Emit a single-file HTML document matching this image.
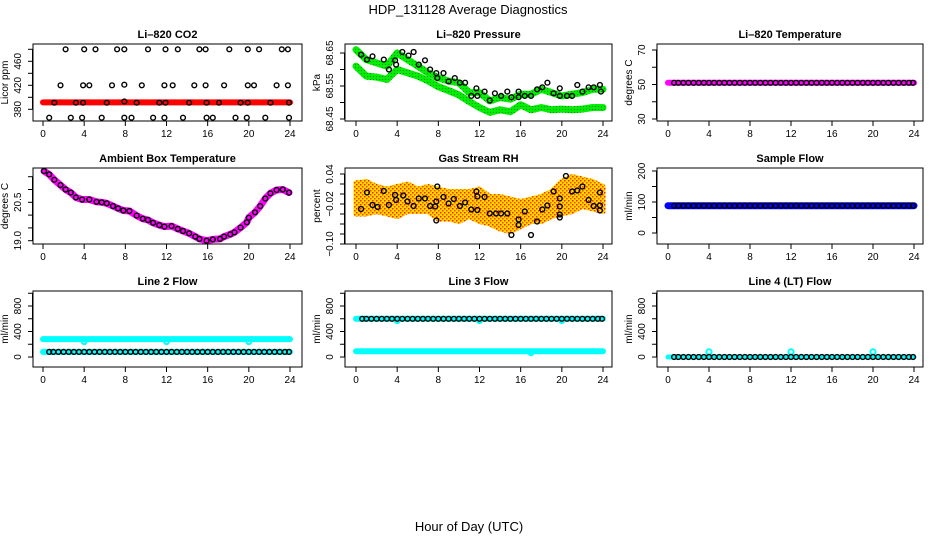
<!DOCTYPE html>
<html><head><meta charset="utf-8"><style>
body{margin:0;background:#fff;}
svg{display:block;font-family:"Liberation Sans",Arial,sans-serif;}
</style></head><body>
<svg id="chart" width="936" height="540" viewBox="0 0 936 540" xmlns="http://www.w3.org/2000/svg">
<defs>
<pattern id="rhpat" width="4" height="4" patternUnits="userSpaceOnUse"><rect width="4" height="4" fill="#ffd800"/><rect x="0" y="0" width="1.5" height="1.5" fill="#ff2000"/><rect x="2" y="2" width="1.5" height="1.5" fill="#ff4000"/></pattern>
<pattern id="grpat" width="3" height="3" patternUnits="userSpaceOnUse"><rect width="3" height="3" fill="#00ee00"/><rect x="1" y="1" width="1" height="1" fill="#0a8a0a"/></pattern>
</defs>
<text x="468" y="14" text-anchor="middle" font-size="13">HDP_131128  Average Diagnostics</text>
<text x="469" y="531" text-anchor="middle" font-size="13">Hour of Day (UTC)</text>
</svg>
<script>
// ---- data ----
const xTicks=[0,4,8,12,16,20,24];
const co2Hours=[2.2,4.0,5.1,7.2,7.9,10.2,11.9,13.1,15.2,15.8,18.1,19.9,21.0,23.2,23.8, 1.7,3.9,4.5,6.7,7.9,9.6,11.8,12.6,14.7,15.8,17.6,19.9,20.5,22.7,23.8, 1.1,3.2,3.9,6.2,7.9,9.1,11.3,11.9,14.2,15.9,17.1,19.2,19.9,22.1,23.9, 0.6,2.7,3.8,5.7,7.9,8.6,10.7,11.8,13.6,15.9,16.5,18.7,19.8,21.6,23.9];
const co2Values=[480,480,480,480,480,480,480,480,480,480,480,480,480,480,480, 420,420,420,420,421,420,420,420,420,420,420,420,420,420,420, 391,391,391,391,393,391,391,391,391,391,391,391,391,391,391, 366,366,366,366,366,366,366,366,366,366,366,366,366,366,366];
const co2BandHours=[0,24];
const co2BandValues=[391.5,391.5];
const presHours=[0.5,1.07,1.6,2.7,3.2,3.8,3.9,4.5,5.1,5.6,6.1,6.7,7.2,7.8,7.9,8.5,9.0,9.6,10.1,10.6,11.2,11.7,11.8,12.5,13.0,13.5,14.1,14.7,15.1,15.8,15.8,16.4,17.0,17.6,18.1,18.6,19.2,19.8,19.8,20.5,21.0,21.5,22.0,22.6,23.1,23.7,23.8];
const presValues=[68.645,68.63,68.64,68.63,68.60,68.628,68.615,68.653,68.642,68.653,68.615,68.628,68.60,68.589,68.574,68.589,68.564,68.574,68.56,68.56,68.52,68.543,68.52,68.533,68.506,68.528,68.52,68.533,68.516,68.533,68.516,68.52,68.52,68.54,68.546,68.56,68.528,68.52,68.543,68.52,68.52,68.553,68.533,68.546,68.546,68.553,68.533];
const greenHours=[0,1,2,3,4,5,6,7,8,9,10,11,12,13,14,15,16,17,18,19,20,21,22,23,24];
const greenUpper=[68.66,68.63,68.62,68.61,68.65,68.63,68.61,68.59,68.575,68.565,68.56,68.53,68.53,68.505,68.515,68.51,68.525,68.525,68.54,68.53,68.52,68.525,68.53,68.54,68.54];
const greenLower=[68.61,68.58,68.577,68.57,68.6,68.59,68.58,68.566,68.548,68.536,68.523,68.503,68.485,68.47,68.478,68.472,68.493,68.478,68.485,68.478,68.48,68.478,68.48,68.485,68.485];
const ambHours=[0.1,0.6,1.1,1.7,2.2,2.7,3.2,3.8,4.5,5.2,5.7,6.2,6.8,7.3,7.8,8.4,9.1,9.7,10.2,10.7,11.3,11.8,12.5,13.1,13.6,14.2,14.8,15.2,15.9,16.5,17.2,17.6,18.2,18.6,19.2,19.8,20.0,20.6,21.1,21.6,22.1,22.7,23.3,23.9];
const ambValues=[21.72,21.59,21.38,21.17,21.0,20.88,20.69,20.61,20.61,20.52,20.5,20.46,20.35,20.26,20.18,20.16,19.98,19.86,19.81,19.7,19.61,19.55,19.57,19.46,19.38,19.29,19.16,19.07,19.0,19.05,19.07,19.16,19.25,19.33,19.51,19.72,19.9,20.11,20.35,20.65,20.85,20.98,21.0,20.88];
const rhHours=[0.5,1.07,1.6,2.1,2.7,3.2,3.8,3.9,4.6,5.0,5.6,6.1,6.7,7.2,7.7,7.8,7.9,7.8,8.5,9.0,9.5,10.1,10.6,11.2,11.7,11.8,11.8,12.5,13.0,13.6,14.1,14.7,15.1,15.8,15.8,16.4,17.0,17.6,18.1,18.6,19.2,19.8,19.8,19.8,19.8,20.4,21.0,21.5,22.0,22.6,23.1,23.7,23.7,23.7];
const rhValues=[-0.030,0.003,-0.022,-0.026,0.006,-0.022,-0.002,-0.012,-0.003,-0.015,-0.024,-0.009,-0.009,-0.024,-0.025,-0.015,0.015,-0.053,-0.006,-0.019,-0.010,-0.024,-0.017,-0.031,0.005,-0.005,-0.032,-0.006,-0.039,-0.039,-0.039,-0.039,-0.082,-0.051,-0.062,-0.035,-0.082,-0.055,-0.031,-0.023,0.005,-0.009,-0.025,-0.041,-0.047,0.036,0.005,0.007,0.015,-0.012,-0.024,0.003,-0.023,-0.033];
const rhCloudHours=[0,1,2,3,4,5,6,7,8,9,10,11,12,13,14,15,16,17,18,19,20,21,22,23,24];
const rhCloudUpper=[0.022,0.025,0.015,0.01,0.015,0.02,0.01,0.015,0.01,0.005,0.005,0.005,0.01,-0.005,-0.005,-0.01,-0.015,-0.01,-0.005,0.005,0.025,0.035,0.03,0.025,0.015];
const rhCloudLower=[-0.04,-0.04,-0.035,-0.04,-0.045,-0.035,-0.035,-0.035,-0.05,-0.05,-0.055,-0.045,-0.055,-0.06,-0.07,-0.075,-0.065,-0.055,-0.055,-0.045,-0.04,-0.035,-0.025,-0.03,-0.035];
const flowHours=[0.6,1,1.5,2,2.5,3,3.5,4,4.5,5,5.5,6,6.5,7,7.5,8,8.5,9,9.5,10,10.5,11,11.5,12,12.5,13,13.5,14,14.5,15,15.5,16,16.5,17,17.5,18,18.5,19,19.5,20,20.5,21,21.5,22,22.5,23,23.5,23.9];
const tempValues=[51,51,51,51,51,51,51,51,51,51,51,51,51,51,51,51,51,51,51,51,51,51,51,51,51,51,51,51,51,51,51,51,51,51,51,51,51,51,51,51,51,51,51,51,51,51,51,51];
const sampleValues=[88,88,88,88,88,88,88,88,88,88,88,88,88,88,88,88,88,88,88,88,88,88,88,88,88,88,88,88,88,88,88,88,88,88,88,88,88,88,88,88,88,88,88,88,88,88,88,88];
const line2Values=[80,80,80,80,80,80,80,80,80,80,80,80,80,80,80,80,80,80,80,80,80,80,80,80,80,80,80,80,80,80,80,80,80,80,80,80,80,80,80,80,80,80,80,80,80,80,80,80];
const line3Values=[600,600,600,600,600,600,600,600,600,600,600,600,600,600,600,600,600,600,600,600,600,600,600,600,600,600,600,600,600,600,600,600,600,600,600,600,600,600,600,600,600,600,600,600,600,600,600,600];
const line4Values=[0,0,0,0,0,0,0,0,0,0,0,0,0,0,0,0,0,0,0,0,0,0,0,0,0,0,0,0,0,0,0,0,0,0,0,0,0,0,0,0,0,0,0,0,0,0,0,0];
const bandHours=[0,24];
const tempBand=[51,51];
const sampleBand=[88,88];
const line2BandA=[280,280];
const line2BandB=[80,80];
const line3BandA=[600,600];
const line3BandB=[90,90];
const line4Band=[0,0];
const line2DipHours=[4,12,20];
const line2DipValues=[240,240,240];
const line3DipHours=[4,12,20,17];
const line3DipValues=[570,570,570,65];
const line4SpikeHours=[4,12,20];
const line4SpikeValues=[80,80,80];
const co2Ticks=[380,400,420,440,460,480], co2Labels=[380,420,460];
const presTicks=[68.45,68.5,68.55,68.6,68.65], presLabels=["68.45","68.55","68.65"], presLabelVals=[68.45,68.55,68.65];
const tempTicks=[30,40,50,60,70], tempLabels=[30,50,70];
const ambTicks=[19,19.5,20,20.5,21,21.5], ambLabels=["19.0","20.5"], ambLabelVals=[19,20.5];
const rhTicks=[-0.10,-0.08,-0.06,-0.04,-0.02,0,0.02,0.04], rhLabels=["\u22120.10","\u22120.02","0.04"], rhLabelVals=[-0.10,-0.02,0.04];
const sampleTicks=[0,50,100,150,200], sampleLabels=[0,100,200];
const flowTicks=[0,200,400,600,800,1000], flowLabels=[0,400,800];

// ---- layout ----
const NS="http://www.w3.org/2000/svg";
const svg=document.getElementById('chart');
const cols=[{l:33,r:302,x0:43,x24:290},{l:345,r:612,x0:356,x24:603},{l:657,r:923,x0:668,x24:914}];
const rows=[{t:44,b:121},{t:168,b:244},{t:291,b:367}];
function mk(tag,attrs,parent){const e=document.createElementNS(NS,tag);for(const k in attrs)e.setAttribute(k,attrs[k]);(parent||svg).appendChild(e);return e;}
function lin(v1,p1,v2,p2){return v=>p1+(v-v1)*(p2-p1)/(v2-v1);}

function panel(name,title,ci,ri,yv1,yp1,yv2,yp2,yTicks,yLabelVals,yLabelTxt,ylab){
  const c=cols[ci],r=rows[ri];
  const g=mk('g',{});
  
  
  const x=lin(0,c.x0,24,c.x24), y=lin(yv1,yp1,yv2,yp2);
  const t=mk('text',{x:(c.l+c.r)/2,y:r.t-6,'text-anchor':'middle','font-size':11,'font-weight':'bold'},g);
  t.textContent=title;
  
  
  const plot=mk('g',{},g);
  
  
  const box=mk('rect',{x:c.l,y:r.t,width:c.r-c.l,height:r.b-r.t,fill:'none',stroke:'#000','stroke-width':1},g);
  
  
  const xa=mk('g',{},g);
  
  
  xTicks.forEach(h=>{
    mk('line',{x1:x(h),x2:x(h),y1:r.b,y2:r.b+5,stroke:'#000'},xa);
    const tl=mk('text',{x:x(h),y:r.b+16,'text-anchor':'middle','font-size':10},xa);
    tl.textContent=h;
    
    
  });
  const ya=mk('g',{},g);
  
  
  yTicks.forEach(v=>{mk('line',{x1:c.l-5,x2:c.l,y1:y(v),y2:y(v),stroke:'#000'},ya);});
  mk('line',{x1:c.l-0.5,x2:c.l-0.5,y1:y(yTicks[0]),y2:y(yTicks[yTicks.length-1]),stroke:'#000'},ya);
  yLabelVals.forEach((v,i)=>{
    const lx=c.l-12, ly=y(v);
    const tl=mk('text',{x:lx,y:ly,'text-anchor':'middle','font-size':10,transform:`rotate(-90 ${lx} ${ly})`,dy:'0'},ya);
    tl.textContent=yLabelTxt[i];
    
    
  });
  const lx=c.l-25, ly=(r.t+r.b)/2;
  const yt=mk('text',{x:lx,y:ly,'text-anchor':'middle','font-size':10,transform:`rotate(-90 ${lx} ${ly})`},g);
  yt.textContent=ylab;
  
  
  return {x,y,plot};
}
function band(p,hs,vs,color,w,nm){
  const pts=hs.map((h,i)=>p.x(h).toFixed(1)+','+p.y(vs[i]).toFixed(1)).join(' ');
  const e=mk('polyline',{points:pts,fill:'none',stroke:color,'stroke-width':w,'stroke-linejoin':'round','stroke-linecap':'round'},p.plot);
  
  
}
function pts(p,hs,vs,color,nm,rad,sw){
  hs.forEach((h,i)=>{
    const e=mk('circle',{cx:p.x(h).toFixed(1),cy:p.y(vs[i]).toFixed(1),r:rad||2.4,fill:'none',stroke:color,'stroke-width':sw||1.4},p.plot);
    
    
  });
}

// CO2
let p=panel('co2','Li\u2013820 CO2',0,0,380,109.3,460,61.3,co2Ticks,co2Labels,co2Labels,'Licor ppm');
band(p,co2BandHours,co2BandValues,'#ff0000',6,'co2-band');
pts(p,co2Hours,co2Values,'#000','co2-point');
// Pressure
p=panel('pressure','Li\u2013820 Pressure',1,0,68.45,119,68.65,53,presTicks,presLabelVals,presLabels,'kPa');
band(p,greenHours,greenUpper,'url(#grpat)',7,'pressure-band-upper');
band(p,greenHours,greenLower,'url(#grpat)',7,'pressure-band-lower');
pts(p,presHours,presValues,'#000','pressure-point');
// Temperature
p=panel('li820-temp','Li\u2013820 Temperature',2,0,30,119,70,50,tempTicks,tempLabels,tempLabels,'degrees C');
band(p,bandHours,tempBand,'#ff00ff',6,'temp-band');
pts(p,flowHours,tempValues,'#000','temp-point');
// Ambient
p=panel('ambient','Ambient Box Temperature',0,1,19,240.7,20.5,202.3,ambTicks,ambLabelVals,ambLabels,'degrees C');
band(p,ambHours,ambValues,'#ff00ff',7,'ambient-band');
pts(p,ambHours,ambValues,'#000','ambient-point');
// RH
p=panel('rh','Gas Stream RH',1,1,0.04,174,-0.10,244,rhTicks,rhLabelVals,rhLabels,'percent');
{
  const up=rhCloudHours.map((h,i)=>p.x(h).toFixed(1)+','+p.y(rhCloudUpper[i]).toFixed(1));
  const lo=rhCloudHours.map((h,i)=>p.x(h).toFixed(1)+','+p.y(rhCloudLower[i]).toFixed(1)).reverse();
  const e=mk('polygon',{points:up.concat(lo).join(' '),fill:'url(#rhpat)',stroke:'url(#rhpat)','stroke-width':5,'stroke-linejoin':'round'},p.plot);
  
  
}
pts(p,rhHours,rhValues,'#000','rh-point');
// Sample flow
p=panel('sample-flow','Sample Flow',2,1,0,233,200,171,sampleTicks,sampleLabels,sampleLabels,'ml/min');
band(p,bandHours,sampleBand,'#0000ff',7,'sample-band');
pts(p,flowHours,sampleValues,'#000','sample-point');
// Line 2
p=panel('line2','Line 2 Flow',0,2,0,357,800,306,flowTicks,flowLabels,flowLabels,'ml/min');
band(p,bandHours,line2BandA,'#00ffff',6,'line2-band-a');
band(p,bandHours,line2BandB,'#00ffff',6,'line2-band-b');
pts(p,line2DipHours,line2DipValues,'#00ffff','line2-dip',2.4,2);
pts(p,flowHours,line2Values,'#000','line2-point');
// Line 3
p=panel('line3','Line 3 Flow',1,2,0,357,800,306,flowTicks,flowLabels,flowLabels,'ml/min');
band(p,bandHours,line3BandA,'#00ffff',6,'line3-band-a');
band(p,bandHours,line3BandB,'#00ffff',6,'line3-band-b');
pts(p,line3DipHours,line3DipValues,'#00ffff','line3-dip',2.4,2);
pts(p,flowHours,line3Values,'#000','line3-point');
// Line 4
p=panel('line4','Line 4 (LT) Flow',2,2,0,357,800,306,flowTicks,flowLabels,flowLabels,'ml/min');
band(p,bandHours,line4Band,'#00ffff',5,'line4-band');
pts(p,line4SpikeHours,line4SpikeValues,'#00ffff','line4-spike',2.6,2);
pts(p,flowHours,line4Values,'#000','line4-point');
</script>
</body></html>
